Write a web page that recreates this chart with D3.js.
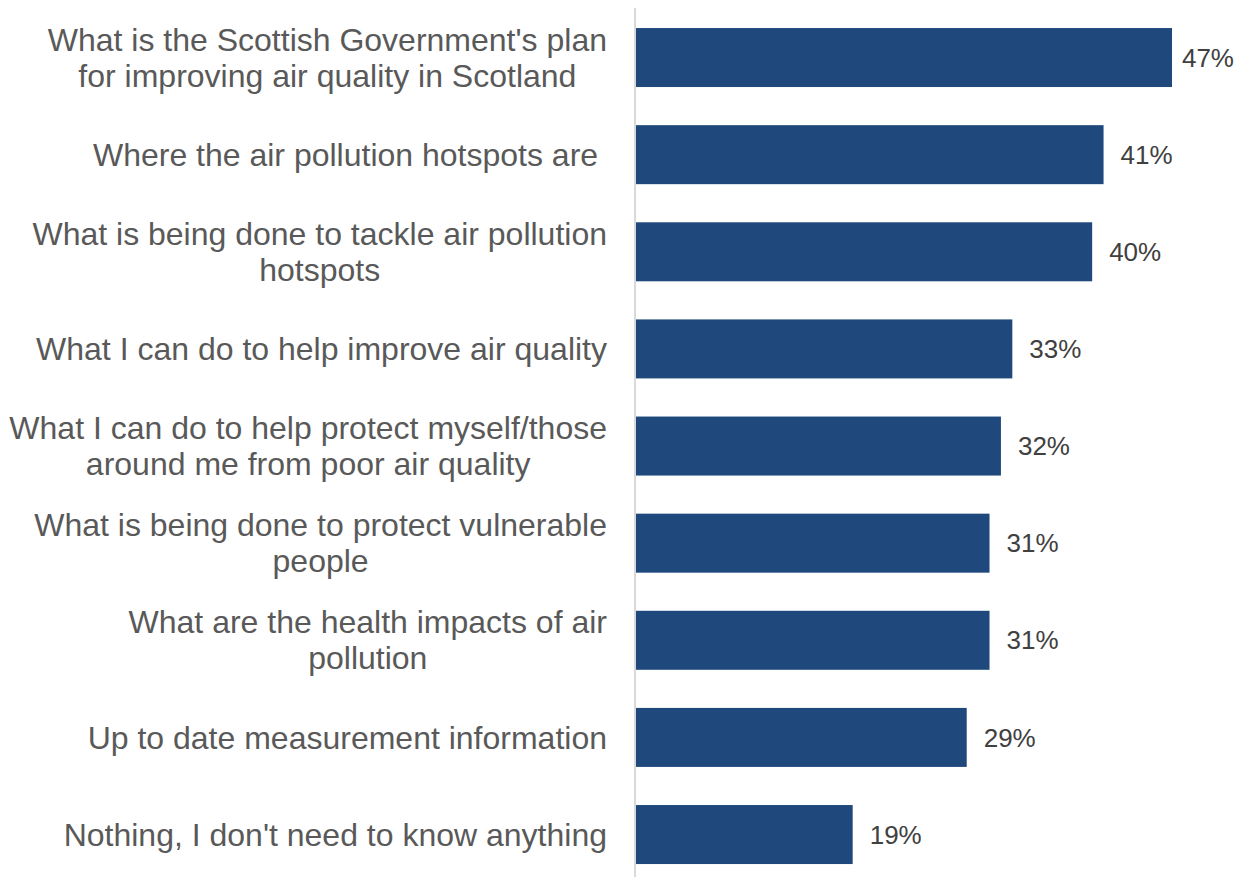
<!DOCTYPE html>
<html>
<head>
<meta charset="utf-8">
<script src="https://cdn.jsdelivr.net/npm/d3@7"></script>
<style>
  html, body { margin: 0; padding: 0; background: #ffffff; }
  svg { display: block; }
</style>
</head>
<body>
<svg id="chart" width="1246" height="877"></svg>
<script>
// Information people would like to know about air quality (% of respondents)
const categories = [
  ["What is the Scottish Government's plan", "for improving air quality in Scotland"],
  ["Where the air pollution hotspots are\u00a0"],
  ["What is being done to tackle air pollution", "hotspots"],
  ["What I can do to help improve air quality"],
  ["What I can do to help protect myself/those", "around me from poor air quality"],
  ["What is being done to protect vulnerable", "people"],
  ["What are the health impacts of air", "pollution"],
  ["Up to date measurement information"],
  ["Nothing, I don't need to know anything"]
];
const values = [47, 41, 40, 33, 32, 31, 31, 29, 19];
const valueLabels = ["47%", "41%", "40%", "33%", "32%", "31%", "31%", "29%", "19%"];

const svg = d3.select("#chart");
const width = 1246;
const plotLeft = 636;
const labelRight = 607;
const fontFamily = "'Liberation Sans', Arial, sans-serif";

const x = d3.scaleLinear().domain([0, 50]).range([plotLeft, plotLeft + 570.2]);
const y = d3.scaleBand()
  .domain(d3.range(categories.length))
  .range([9, 9 + 97.12 * 9])
  .paddingInner(0.3925)
  .paddingOuter(0.196);

// Vertical category axis line
svg.append("line")
  .attr("x1", plotLeft - 1).attr("x2", plotLeft - 1)
  .attr("y1", 8).attr("y2", 877)
  .attr("stroke", "#d9d9d9").attr("stroke-width", 2);

// Bars
svg.append("g").selectAll("rect")
  .data(values)
  .join("rect")
  .attr("x", x(0))
  .attr("y", (d, i) => y(i))
  .attr("width", d => x(d) - x(0))
  .attr("height", y.bandwidth())
  .attr("fill", "#1f497d");

// Value labels
const vl = svg.append("g").selectAll("text")
  .data(values)
  .join("text")
  .attr("y", (d, i) => y(i) + y.bandwidth() / 2)
  .attr("dy", "0.35em")
  .attr("font-family", fontFamily)
  .attr("font-size", 26)
  .attr("fill", "#404040")
  .text((d, i) => valueLabels[i]);
vl.each(function(d) {
  const w = this.getComputedTextLength();
  const xPos = Math.min(x(d) + 17, width - 12 - w);
  d3.select(this).attr("x", xPos);
});

// Category labels: block right-aligned to the axis, lines centred within the block
const lineHeight = 36;
const catG = svg.append("g");
categories.forEach((lines, i) => {
  const t = catG.append("text")
    .attr("font-family", fontFamily)
    .attr("font-size", 32)
    .attr("fill", "#595959")
    .attr("text-anchor", "middle")
    .style("white-space", "pre");
  const cy = y(i) + y.bandwidth() / 2;
  const startY = cy - (lines.length - 1) * lineHeight / 2;
  const spans = lines.map((ln, j) =>
    t.append("tspan").attr("y", startY + j * lineHeight).attr("dy", "0.35em").text(ln));
  const maxW = d3.max(spans, s => s.node().getComputedTextLength());
  spans.forEach(s => s.attr("x", labelRight - maxW / 2));
});
</script>
</body>
</html>
